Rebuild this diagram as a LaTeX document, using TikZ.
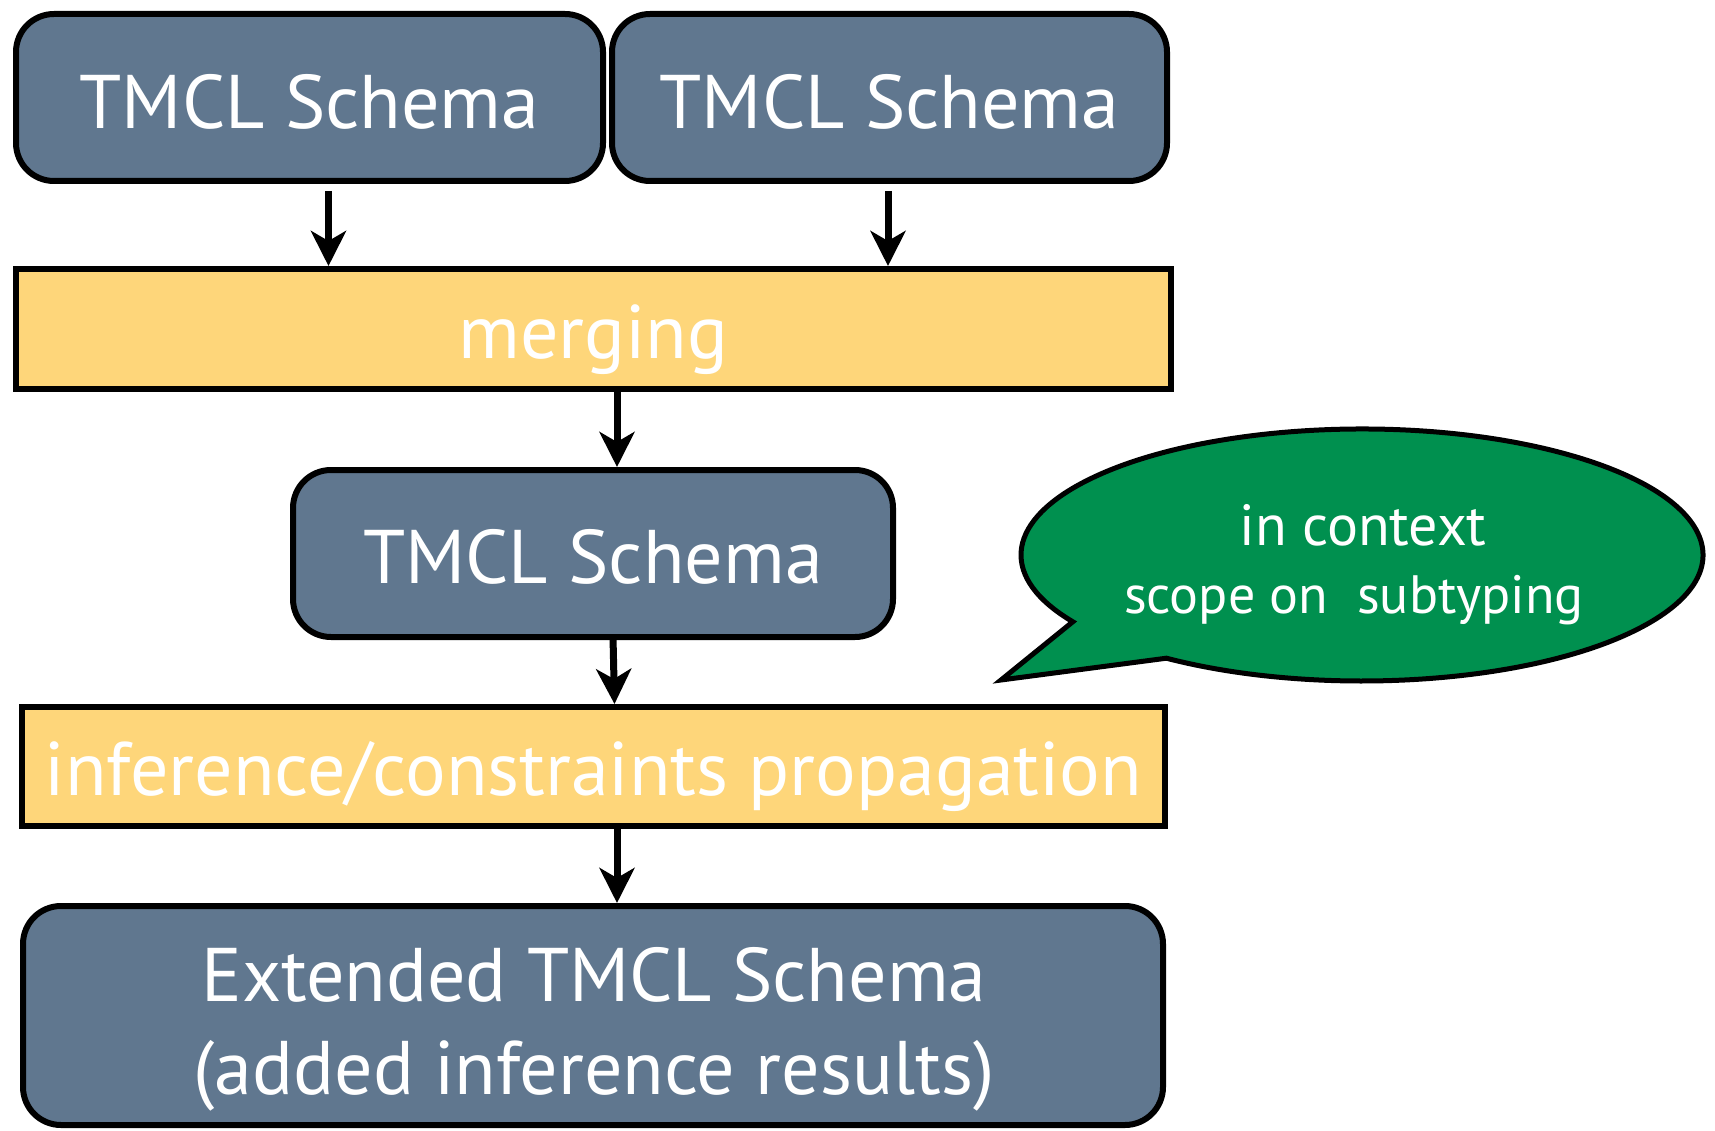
\documentclass[tikz,border=0pt]{standalone}
\usepackage{fontspec}
\setmainfont{PT Sans}
\usetikzlibrary{arrows.meta}
\definecolor{slate}{HTML}{60778F}
\definecolor{sun}{HTML}{FED67A}
\definecolor{leaf}{HTML}{00904F}
\begin{document}
\begin{tikzpicture}[x=1pt,y=-1pt,
  base/.style={draw=black, line width=6pt, text=white, inner sep=0pt,
    font=\fontsize{76}{92}\selectfont, text depth=0pt},
  schema/.style={base, fill=slate, rounded corners=38pt},
  process/.style={base, fill=sun},
  lbl/.style={text=white, inner sep=0pt, anchor=base, font=\fontsize{76}{92}\selectfont},
  arr/.style={line width=7pt, -{Stealth[length=35pt, width=35pt, inset=10pt]}},
  bubtext/.style={text=white, inner sep=0pt, anchor=base}]
\useasboundingbox (0,0) rectangle (1715,1131);
\node[schema, minimum width=587pt, minimum height=167pt, text height=63pt] (A) at (309.5,97.5) {TMCL Schema};
\node[schema, minimum width=555pt, minimum height=167pt, text height=63pt] (B) at (889.5,97.5) {TMCL Schema};
\node[process, minimum width=1155pt, minimum height=120pt, text height=58pt] (merge) at (593.5,329) {merging};
\node[schema, minimum width=600pt, minimum height=167pt, text height=59pt] (C) at (593,553.5) {TMCL Schema};
\node[process, minimum width=1143pt, minimum height=119pt, text height=57pt] (inf) at (593.5,766.5) {inference/constraints propagation};
\node[schema, minimum width=1140pt, minimum height=219pt] (D) at (593,1015.5) {};
\node[lbl] (D1) at (594,1001) {Extended TMCL Schema};
\node[lbl] (D2) at (594,1094) {(added inference results)};
% speech bubble
\filldraw[fill=leaf, draw=black, line width=5pt, line join=miter]
  (1001,680) -- (1166.4,658.2) arc[start angle=125, end angle=-212, x radius=341, y radius=126] -- cycle;
\node[bubtext, font=\fontsize{58}{64}\selectfont] (b1) at (1363,545) {in context};
\node[bubtext, font=\fontsize{54}{60}\selectfont] (b2) at (1354,613) {scope on~ subtyping};
% arrows
\draw[arr] ([xshift=19pt,yshift=-7pt]A.south) -- ([xshift=-265pt]merge.north);
\draw[arr] ([xshift=-1.5pt,yshift=-7pt]B.south) -- ([xshift=294.5pt]merge.north);
\draw[arr] ([xshift=23.5pt]merge.south) -- ([xshift=24pt]C.north);
\draw[arr] ([xshift=20pt,yshift=3pt]C.south) -- ([xshift=21pt]inf.north);
\draw[arr] ([xshift=23.5pt]inf.south) -- ([xshift=24pt]D.north);
\end{tikzpicture}
\end{document}
